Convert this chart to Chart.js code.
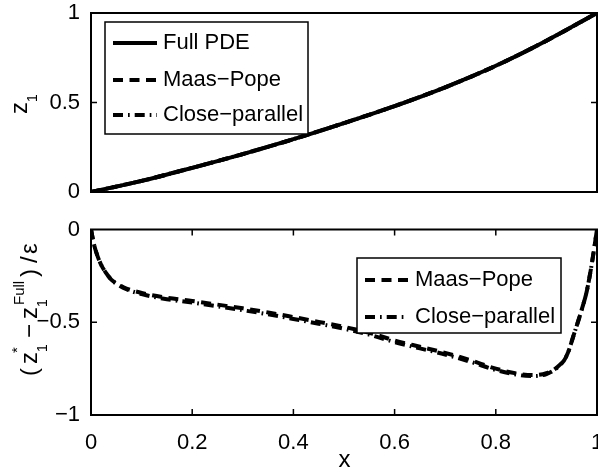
<!DOCTYPE html>
<html>
<head>
<meta charset="utf-8">
<script src="https://cdn.jsdelivr.net/npm/chart.js@4.4.0/dist/chart.umd.min.js"></script>
<style>
html, body { margin: 0; padding: 0; background: #fff; }
#wrap { position: relative; width: 598px; height: 472px; overflow: hidden; }
#topChart { position: absolute; left: 0; top: 0; }
#botChart { position: absolute; left: 0; top: 215px; }
</style>
</head>
<body>
<div id="wrap">
  <canvas id="topChart" width="598" height="215"></canvas>
  <canvas id="botChart" width="598" height="257"></canvas>
</div>
<script>
// valores
const topX = [0, 0.1, 0.2, 0.3, 0.4, 0.5, 0.6, 0.7, 0.8, 0.9, 1.0];
const topZ = [0, 0.062, 0.135, 0.212, 0.295, 0.385, 0.48, 0.585, 0.705, 0.845, 1.0];

const errX = [0, 0.005, 0.01, 0.02, 0.03, 0.04, 0.05, 0.07, 0.1, 0.15, 0.2, 0.25, 0.3, 0.35, 0.4, 0.45,
              0.5, 0.55, 0.6, 0.65, 0.7, 0.75, 0.8, 0.85, 0.875, 0.9, 0.92, 0.94, 0.955, 0.97, 0.98, 0.99, 1.0];
const errMaasPope = [0, -0.07, -0.12, -0.19, -0.235, -0.27, -0.29, -0.318, -0.342, -0.368, -0.385, -0.405, -0.425, -0.447, -0.472, -0.498,
                     -0.525, -0.557, -0.598, -0.632, -0.665, -0.705, -0.75, -0.78, -0.785, -0.775, -0.745, -0.68, -0.56, -0.43, -0.33, -0.18, 0];
const errCloseParallel = [0, -0.07, -0.12, -0.19, -0.235, -0.27, -0.292, -0.322, -0.348, -0.376, -0.394, -0.414, -0.435, -0.457, -0.482, -0.508,
                          -0.535, -0.567, -0.607, -0.641, -0.674, -0.713, -0.757, -0.786, -0.79, -0.779, -0.748, -0.682, -0.56, -0.43, -0.33, -0.18, 0];

const xTicks = [0, 0.2, 0.4, 0.6, 0.8, 1];
const FONT = '"Liberation Sans", Arial, sans-serif';

Chart.defaults.font.family = FONT;
Chart.defaults.font.size = 22;
Chart.defaults.color = '#000';

const pts = (xs, ys) => xs.map((x, i) => ({x: x, y: ys[i]}));
const fmt = v => {
  const n = Number(v.toFixed(2));
  return n === 0 ? '0' : String(n).replace('-', '\u2212');
};

const DASH = [10, 6.5];
const DASHDOT = [10, 5, 1.7, 5];

// marco tipo matlab con ticks hacia adentro
const frame = {
  id: 'frame',
  afterDatasetsDraw(chart, args, o) {
    const {ctx, chartArea: a, scales} = chart;
    ctx.save();
    ctx.strokeStyle = '#000';
    ctx.lineWidth = 1.5;
    ctx.beginPath();
    (o.xt || []).forEach(v => {
      const px = scales.x.getPixelForValue(v);
      ctx.moveTo(px, a.bottom); ctx.lineTo(px, a.bottom - 6);
      ctx.moveTo(px, a.top); ctx.lineTo(px, a.top + 6);
    });
    (o.yt || []).forEach(v => {
      const py = scales.y.getPixelForValue(v);
      ctx.moveTo(a.left, py); ctx.lineTo(a.left + 6, py);
      ctx.moveTo(a.right, py); ctx.lineTo(a.right - 6, py);
    });
    ctx.stroke();
    ctx.lineWidth = 2;
    ctx.strokeRect(a.left, a.top, a.right - a.left, a.bottom - a.top);
    ctx.restore();
  }
};

// leyenda con recuadro
const boxLegend = {
  id: 'boxLegend',
  afterDraw(chart, args, o) {
    const ctx = chart.ctx;
    ctx.save();
    ctx.fillStyle = '#fff';
    ctx.fillRect(o.x, o.y, o.w, o.h);
    ctx.strokeStyle = '#000';
    ctx.lineWidth = 1.5;
    ctx.strokeRect(o.x, o.y, o.w, o.h);
    chart.data.datasets.forEach((ds, i) => {
      const cy = o.rows[i];
      ctx.setLineDash(ds.borderDash || []);
      ctx.lineWidth = ds.borderWidth;
      ctx.beginPath();
      ctx.moveTo(o.x0, cy);
      ctx.lineTo(o.x1, cy);
      ctx.stroke();
      ctx.setLineDash([]);
      ctx.fillStyle = '#000';
      ctx.font = '22px ' + FONT;
      ctx.textBaseline = 'middle';
      ctx.textAlign = 'left';
      ctx.fillText(ds.label, o.tx, cy);
    });
    ctx.restore();
  }
};

// etiquetas de ejes (rotadas, con subindices)
const axisText = {
  id: 'axisText',
  afterDraw(chart, args, o) {
    const ctx = chart.ctx;
    ctx.save();
    ctx.fillStyle = '#000';
    (o.runs || []).forEach(([t, size, y0, dy]) => {
      ctx.save();
      ctx.translate(o.base + dy, y0);
      ctx.rotate(-Math.PI / 2);
      ctx.font = size + 'px ' + FONT;
      ctx.textBaseline = 'alphabetic';
      ctx.textAlign = 'left';
      ctx.fillText(t, 0, 0);
      ctx.restore();
    });
    if (o.xlabel) {
      ctx.font = '24px ' + FONT;
      ctx.textAlign = 'center';
      ctx.textBaseline = 'alphabetic';
      ctx.fillText(o.xlabel.text, o.xlabel.x, o.xlabel.y);
    }
    ctx.restore();
  }
};

function lineDs(label, xs, ys, dash) {
  return {
    label: label,
    data: pts(xs, ys),
    borderColor: '#000',
    borderWidth: 4,
    borderDash: dash,
    pointRadius: 0,
    fill: false,
    cubicInterpolationMode: 'monotone'
  };
}

function xScale(h, show) {
  return {
    type: 'linear', min: 0, max: 1,
    grid: {display: false}, border: {display: false},
    ticks: {display: show, stepSize: 0.2, padding: 7, autoSkip: false, maxRotation: 0, callback: fmt},
    afterBuildTicks(s) { s.ticks = xTicks.map(v => ({value: v})); },
    afterFit(s) { s.height = h; s.paddingLeft = 0; s.paddingRight = 0; }
  };
}

function yScale(min, max) {
  return {
    min: min, max: max,
    grid: {display: false}, border: {display: false},
    ticks: {stepSize: 0.5, padding: 3, callback: fmt},
    afterFit(s) { s.width = 91; s.paddingTop = 0; s.paddingBottom = 0; }
  };
}

new Chart(document.getElementById('topChart'), {
  type: 'line',
  data: {
    datasets: [
      lineDs('Full PDE', topX, topZ, []),
      lineDs('Maas\u2212Pope', topX, topZ, DASH),
      lineDs('Close\u2212parallel', topX, topZ, DASHDOT)
    ]
  },
  options: {
    responsive: false,
    animation: false,
    layout: {padding: {left: 0, right: 1, top: 13, bottom: 0}},
    scales: {x: xScale(23, false), y: yScale(0, 1)},
    plugins: {
      legend: {display: false},
      tooltip: {enabled: false},
      frame: {yt: [0.5]},
      boxLegend: {x: 105, y: 22, w: 203, h: 112, rows: [43, 80, 115], x0: 113, x1: 157, tx: 163},
      axisText: {base: 27, runs: [['z', 24, 114, 0], ['1', 14, 102, 10]]}
    }
  },
  plugins: [frame, boxLegend, axisText]
});

new Chart(document.getElementById('botChart'), {
  type: 'line',
  data: {
    datasets: [
      lineDs('Maas\u2212Pope', errX, errMaasPope, DASH),
      lineDs('Close\u2212parallel', errX, errCloseParallel, DASHDOT)
    ]
  },
  options: {
    responsive: false,
    animation: false,
    layout: {padding: {left: 0, right: 1, top: 14.5, bottom: 0}},
    scales: {x: xScale(57, true), y: yScale(-1, 0)},
    plugins: {
      legend: {display: false},
      tooltip: {enabled: false},
      frame: {xt: [0.2, 0.4, 0.6, 0.8], yt: [-0.5]},
      boxLegend: {x: 357, y: 43, w: 204, h: 75, rows: [65, 102], x0: 365, x1: 408, tx: 415},
      axisText: {
        base: 37,
        runs: [
          ['(', 24, 161, 0],
          ['z', 24, 149, 0],
          ['1', 14, 137, 10],
          ['*', 15, 138, -15],
          ['\u2212', 24, 123, 0],
          ['z', 24, 104, 0],
          ['1', 14, 92, 10],
          ['Full', 15, 90, -13],
          [')', 24, 62, 0],
          ['/', 24, 48, 0],
          ['\u03b5', 24, 39, 0]
        ],
        xlabel: {text: 'x', x: 344.5, y: 252}
      }
    }
  },
  plugins: [frame, boxLegend, axisText]
});
</script>
</body>
</html>
